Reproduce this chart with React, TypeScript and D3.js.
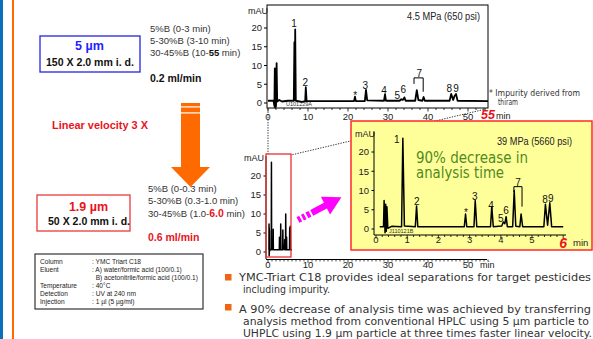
import * as d3 from "d3";

// HPLC run (5 um, 0-55 min): [min, mAU]
const hplcTrace: [number, number][] = [
  [0, 0.6], [1.4, 0.6], [1.6, -0.8], [1.7, 9.2], [1.8, -1.2], [2.0, -0.8], [2.15, 10.6], [2.3, 0.4],
  [2.8, 0.8], [3.5, 0.4], [5.0, 0.6], [6.45, 0.6], [6.6, 16.2], [6.7, 0.8], [6.8, 19.6], [6.95, 0.6],
  [8.5, 0.3], [9.3, 0.5], [9.45, 4.2], [9.65, 0.5], [12, 0.5], [21.5, 0.5], [21.75, 1.7], [21.95, 0.5],
  [24.2, 0.5], [24.5, 3.5], [24.8, 0.7], [29.0, 0.6], [29.25, 2.3], [29.5, 0.6], [32.9, 0.6], [33.3, 1.0],
  [33.7, 0.8], [34.1, 1.5], [34.4, 0.6], [36.8, 0.6], [37.2, 3.4], [37.6, 0.8], [38.6, 0.6], [38.9, 1.6],
  [39.2, 0.6], [45.4, 0.6], [45.8, 2.4], [46.3, 0.8], [46.6, 1.8], [47.0, 2.4], [47.4, 0.6], [55, 0.5],
];

// UHPLC run (1.9 um, 0-6 min): [min, mAU]
const uhplcTrace: [number, number][] = [
  [0.12, 0.6], [0.24, 0.6], [0.26, 7.4], [0.29, -1.0], [0.31, 6.4], [0.33, -0.6], [0.35, 5.8], [0.38, 0.2],
  [0.5, 0.7], [0.82, 0.6], [0.86, 23.6], [0.91, 0.8], [1.26, 0.6], [1.3, 6.0], [1.34, 0.6], [2.83, 0.6],
  [2.87, 3.9], [2.91, 0.6], [3.14, 0.6], [3.18, 7.4], [3.23, 0.6], [3.67, 0.6], [3.71, 5.8], [3.76, 0.6],
  [4.03, 0.8], [4.08, 1.8], [4.13, 1.4], [4.17, 3.2], [4.21, 0.6], [4.38, 0.6], [4.43, 10.0], [4.48, 0.7],
  [4.61, 0.6], [4.65, 3.9], [4.7, 0.6], [5.38, 0.6], [5.43, 6.4], [5.5, 1.0], [5.57, 6.8], [5.63, 0.6],
  [6.0, 0.6],
];

const hplcPeakLabels = [
  { t: 6.5, v: 21.2, label: "1" }, { t: 9.3, v: 5.6, label: "2" }, { t: 21.8, v: 2.0, label: "*" },
  { t: 24.3, v: 4.6, label: "3" }, { t: 29.0, v: 3.3, label: "4" }, { t: 32.3, v: 1.9, label: "5" },
  { t: 33.8, v: 3.5, label: "6" }, { t: 37.8, v: 7.8, label: "7" }, { t: 45.3, v: 4.0, label: "8" },
  { t: 47.0, v: 4.0, label: "9" },
];
const uhplcPeakLabels = [
  { t: 0.67, v: 23.2, label: "1" }, { t: 1.31, v: 7.1, label: "2" }, { t: 2.88, v: 4.4, label: "*" },
  { t: 3.17, v: 8.4, label: "3" }, { t: 3.69, v: 6.0, label: "4" }, { t: 4.0, v: 2.6, label: "5" },
  { t: 4.17, v: 4.7, label: "6" }, { t: 4.55, v: 12.1, label: "7" }, { t: 5.42, v: 7.6, label: "8" },
  { t: 5.6, v: 7.8, label: "9" },
];
// bracket over peak 7: [left t, right t, top v, left leg v, right leg v]
const hplcBracket = [36.5, 38.8, 6.7, 5.1, 3.0];
const uhplcBracket = [4.42, 4.68, 11.0, 9.6, 5.8];

const mauTicks = [0, 5, 10, 15, 20];
const minTicks = [0, 10, 20, 30, 40, 50];
const insetTicks = [0, 1, 2, 3, 4, 5];

const hplcGradient = ["5%B (0-3 min)", "5-30%B (3-10 min)"];
const uhplcGradient = ["5%B (0-0.3 min)", "5-30%B (0.3-1.0 min)"];

const condLabels = ["Column", "Eluent", "", "Temperature", "Detection", "Injection"];
const condValues = [
  ": YMC Triart C18", ": A) water/formic acid (100/0.1)", "  B) acetonitrile/formic acid (100/0.1)",
  ": 40\u00b0C", ": UV at 240 nm", ": 1 \u00b5l (5 \u00b5g/ml)",
];
const condY = [262, 270, 277.5, 285.5, 293.5, 302];

const bullets = [
  ["YMC-Triart C18 provides ideal separations for target pesticides", "including impurity."],
  [
    "A 90% decrease of analysis time was achieved by transferring",
    "analysis method from conventional HPLC using 5 \u00b5m particle to",
    "UHPLC using 1.9 \u00b5m particle at three times faster linear velocity.",
  ],
];
const bulletWidths = [[352, 87], [352, 346, 349]];

const arial = "'Liberation Sans', Arial, sans-serif";
const verdana = "'DejaVu Sans', Verdana, sans-serif";
const red = "#e8141c";
const orange = "#ff6a00";

function Bracket({ b, x, y }: { b: number[]; x: any; y: any }) {
  const [t0, t1, top, l, r] = b;
  return (
    <path
      d={`M${x(t0)},${y(l)}V${y(top)}H${x(t1)}V${y(r)}`}
      fill="none" stroke="#000" strokeWidth={1}
    />
  );
}

export default function App() {
  // upper HPLC chromatogram
  const xTop = d3.scaleLinear().domain([0, 55]).range([268, 488]);
  const yTop = d3.scaleLinear().domain([0, 20]).range([103, 28]);
  // lower small chromatogram, same time scale
  const xBl = d3.scaleLinear().domain([0, 55]).range([268, 488]);
  const yBl = d3.scaleLinear().domain([0, 20]).range([252, 176]);
  // yellow inset
  const xIn = d3.scaleLinear().domain([0, 6]).range([376, 563.2]);
  const yIn = d3.scaleLinear().domain([0, 20]).range([229, 152]);

  const lineTop = d3.line<[number, number]>().x(d => xTop(d[0])).y(d => yTop(d[1]));
  const lineBl = d3.line<[number, number]>().x(d => xBl(d[0])).y(d => yBl(d[1]));
  const lineIn = d3.line<[number, number]>().x(d => xIn(d[0])).y(d => yIn(d[1]));

  return (
    <svg width={593} height={339} style={{ position: "absolute", left: 0, top: 0, background: "#fff" }} fontFamily={arial}>
      {/* side rules */}
      <rect x={0} y={0} width={3} height={339} fill="#0b6fc0" />
      <rect x={12} y={0} width={2} height={339} fill={orange} />

      {/* HPLC column box */}
      <rect x={40} y={36} width={100} height={36} fill="none" stroke="#2424e0" strokeWidth={1.3} />
      <text x={89.5} y={49.5} textAnchor="middle" fontSize={12.5} fontWeight="bold" fill="#1f1fff">5 {"\u00b5"}m</text>
      <text x={90} y={65.8} textAnchor="middle" fontSize={10.5} fontWeight="bold" fill="#111" textLength={88} lengthAdjust="spacingAndGlyphs">150 X 2.0 mm i. d.</text>
      {hplcGradient.map((g, i) => (
        <text key={g} x={150} y={32.4 + i * 11.7} fontSize={9.5} fill="#333">{g}</text>
      ))}
      <text x={150} y={55.7} fontSize={9.5} fill="#333">30-45%B (10-<tspan fontWeight="bold" fill="#111">55</tspan> min)</text>
      <text x={150} y={81.8} fontSize={10.5} fontWeight="bold" fill="#111">0.2 ml/min</text>

      <text x={52} y={129} fontSize={11} fontWeight="bold" fill={red} textLength={96} lengthAdjust="spacingAndGlyphs">Linear velocity  3 X</text>

      {/* orange arrow */}
      <rect x={181} y={103} width={19} height={3.3} fill={orange} />
      <rect x={181} y={107.5} width={19} height={4.8} fill={orange} />
      <rect x={181} y={113.5} width={19} height={54} fill={orange} />
      <polygon points="171,167 210,167 190.5,187" fill={orange} />

      {/* UHPLC column box */}
      <rect x={37} y={195} width={93} height={36} fill="none" stroke="#e83a3a" strokeWidth={1.3} />
      <text x={88.5} y={211.4} textAnchor="middle" fontSize={12.5} fontWeight="bold" fill={red}>1.9 {"\u00b5"}m</text>
      <text x={89} y={224.8} textAnchor="middle" fontSize={10.5} fontWeight="bold" fill="#111" textLength={82} lengthAdjust="spacingAndGlyphs">50 X 2.0 mm i. d.</text>
      {uhplcGradient.map((g, i) => (
        <text key={g} x={148} y={192.4 + i * 11.5} fontSize={9.5} fill="#333">{g}</text>
      ))}
      <text x={148} y={216.6} fontSize={9.5} fill="#333">30-45%B (1.0-<tspan fontWeight="bold" fill={red} fontSize={10.5}>6.0</tspan> min)</text>
      <text x={148} y={240.8} fontSize={10.5} fontWeight="bold" fill={red}>0.6 ml/min</text>

      {/* conditions */}
      <rect x={35} y={254} width={168} height={55} fill="#fff" stroke="#333" strokeWidth={1.2} />
      {condLabels.map((c, i) => (
        <text key={"l" + i} x={40} y={condY[i] + 2.3} fontSize={6.6} fill="#222">{c}</text>
      ))}
      {condValues.map((c, i) => (
        <text key={"v" + i} x={92} y={condY[i] + 2.3} fontSize={6.6} fill="#222" xmlSpace="preserve">{c}</text>
      ))}

      {/* dotted zoom lines (under the yellow box) */}
      <line x1={268} y1={109} x2={268} y2={154} stroke="#333" strokeWidth={1} strokeDasharray="1.3 1.3" />
      <line x1={486} y1={109} x2={291} y2={155} stroke="#333" strokeWidth={1} strokeDasharray="1.3 1.3" />

      {/* upper HPLC chromatogram */}
      <rect x={267} y={5} width={221} height={103} fill="none" stroke="#000" strokeWidth={1} />
      <text x={248} y={13.5} fontSize={9} fill="#222">mAU</text>
      {mauTicks.map(t => (
        <g key={t}>
          <line x1={264} x2={267} y1={yTop(t)} y2={yTop(t)} stroke="#000" />
          <text x={262} y={yTop(t) + 3.4} textAnchor="end" fontSize={9.5} fill="#222">{t}</text>
        </g>
      ))}
      {d3.range(0, 56, 2).map(t => (
        <line key={t} x1={xTop(t)} x2={xTop(t)} y1={108} y2={t % 10 === 0 ? 111.5 : 110} stroke="#000" strokeWidth={0.8} />
      ))}
      {minTicks.map(t => (
        <text key={t} x={xTop(t)} y={119.5} textAnchor="middle" fontSize={9.5} fill="#222">{t}</text>
      ))}
      <text x={xTop(55)} y={118.5} textAnchor="middle" fontSize={12.5} fontWeight="bold" fontStyle="italic" fill={red}>55</text>
      <text x={496} y={119} fontSize={9} fill="#222">min</text>
      <text x={407} y={19.8} fontSize={10.5} fill="#222" textLength={73} lengthAdjust="spacingAndGlyphs">4.5 MPa (650 psi)</text>
      <text x={286} y={106} fontSize={5.5} fill="#333">U101229A</text>
      <path d={lineTop(hplcTrace) ?? ""} fill="none" stroke="#000" strokeWidth={1.8} strokeLinejoin="round" />
      {hplcPeakLabels.map(p => (
        <text key={p.label} x={xTop(p.t)} y={yTop(p.v) + 3.5} textAnchor="middle" fontSize={10} fill="#111">{p.label}</text>
      ))}
      <Bracket b={hplcBracket} x={xTop} y={yTop} />
      <text x={489} y={95.5} fontFamily={verdana} fontSize={9.5} fill="#333" textLength={91} lengthAdjust="spacingAndGlyphs">* Impurity derived from</text>
      <text x={498} y={104.5} fontFamily={verdana} fontSize={9.5} fill="#333" textLength={20} lengthAdjust="spacingAndGlyphs">thiram</text>

      {/* lower small chromatogram on the 55 min scale */}
      <text x={244} y={161.3} fontSize={9} fill="#222">mAU</text>
      <line x1={266} x2={266} y1={156} y2={259} stroke="#000" />
      {mauTicks.map(t => (
        <g key={t}>
          <line x1={263.5} x2={266} y1={yBl(t)} y2={yBl(t)} stroke="#000" />
          <text x={261} y={yBl(t) + 3.4} textAnchor="end" fontSize={9.5} fill="#222">{t}</text>
        </g>
      ))}
      <line x1={266} x2={487} y1={259.5} y2={259.5} stroke="#000" />
      {d3.range(0, 56, 1).map(t => (
        <line key={t} x1={xBl(t)} x2={xBl(t)} y1={259.5} y2={t % 10 === 0 ? 263 : 261.5} stroke="#000" strokeWidth={0.7} />
      ))}
      {minTicks.map(t => (
        <text key={t} x={xBl(t)} y={268.4} textAnchor="middle" fontSize={9.5} fill="#222">{t}</text>
      ))}
      <text x={480} y={268.2} fontSize={9} fill="#222">min</text>
      <path d={lineBl(uhplcTrace) ?? ""} fill="none" stroke="#000" strokeWidth={1.5} strokeLinejoin="round" />
      <rect x={266} y={154} width={25} height={103} fill="none" stroke="#e83030" strokeWidth={1.3} />

      {/* magenta arrow */}
      <g transform="translate(298,220) rotate(-27.6)" fill="#ff00ff">
        <rect x={0} y={-3.2} width={3} height={6.4} />
        <rect x={5} y={-3.2} width={3} height={6.4} />
        <rect x={10} y={-3.2} width={3.5} height={6.4} />
        <rect x={15.5} y={-3.2} width={17} height={6.4} />
        <polygon points="31,-10 49,0 31,10" />
      </g>

      {/* yellow inset */}
      <rect x={351} y={121} width={241} height={129} fill="#ffff99" stroke="#ff2a2a" strokeWidth={1.5} />
      <text x={355} y={137.2} fontSize={9} fill="#222">mAU</text>
      <line x1={374} x2={374} y1={132} y2={235} stroke="#000" />
      <line x1={374} x2={566} y1={235} y2={235} stroke="#000" />
      {mauTicks.map(t => (
        <g key={t}>
          <line x1={371.5} x2={374} y1={yIn(t)} y2={yIn(t)} stroke="#000" />
          <text x={369} y={yIn(t) + 3.4} textAnchor="end" fontSize={9.5} fill="#222">{t}</text>
        </g>
      ))}
      {d3.range(0, 31, 1).map(i => (
        <line key={i} x1={xIn(i / 5)} x2={xIn(i / 5)} y1={235} y2={i % 5 === 0 ? 238.5 : 237} stroke="#000" strokeWidth={0.8} />
      ))}
      {insetTicks.map(t => (
        <text key={t} x={xIn(t)} y={243.4} textAnchor="middle" fontSize={9.5} fill="#222">{t}</text>
      ))}
      <text x={xIn(6)} y={247.5} textAnchor="middle" fontSize={14} fontWeight="bold" fontStyle="italic" fill={red}>6</text>
      <text x={573} y={246.4} fontSize={9.5} fill="#222">min</text>
      <text x={497} y={144.8} fontSize={10.5} fill="#222" textLength={75} lengthAdjust="spacingAndGlyphs">39 MPa (5660 psi)</text>
      <text x={389} y={233} fontSize={5.5} fill="#333">J110121B</text>
      <path d={lineIn(uhplcTrace) ?? ""} fill="none" stroke="#000" strokeWidth={1.5} strokeLinejoin="round" />
      {uhplcPeakLabels.map(p => (
        <text key={p.label} x={xIn(p.t)} y={yIn(p.v) + 3.5} textAnchor="middle" fontSize={10} fill="#111">{p.label}</text>
      ))}
      <Bracket b={uhplcBracket} x={xIn} y={yIn} />
      <text x={416} y={162.5} fontFamily={verdana} fontSize={16} fill="#4f8a22" textLength={112} lengthAdjust="spacingAndGlyphs">90% decrease in</text>
      <text x={416} y={178} fontFamily={verdana} fontSize={16} fill="#4f8a22" textLength={88} lengthAdjust="spacingAndGlyphs">analysis time</text>

      {/* bullet notes */}
      <rect x={225} y={274} width={6.5} height={6.5} fill="#f06414" />
      <rect x={225} y={304} width={6.5} height={6.5} fill="#f06414" />
      {bullets.map((lines, b) =>
        lines.map((ln, i) => (
          <text
            key={b + "-" + i}
            x={i === 0 ? 239 : 243}
            y={(b === 0 ? 281 : 313) + i * 12}
            fontFamily={verdana}
            fontSize={10.5}
            fill="#333"
            textLength={bulletWidths[b][i]}
            lengthAdjust="spacingAndGlyphs"
          >
            {ln}
          </text>
        ))
      )}
    </svg>
  );
}
